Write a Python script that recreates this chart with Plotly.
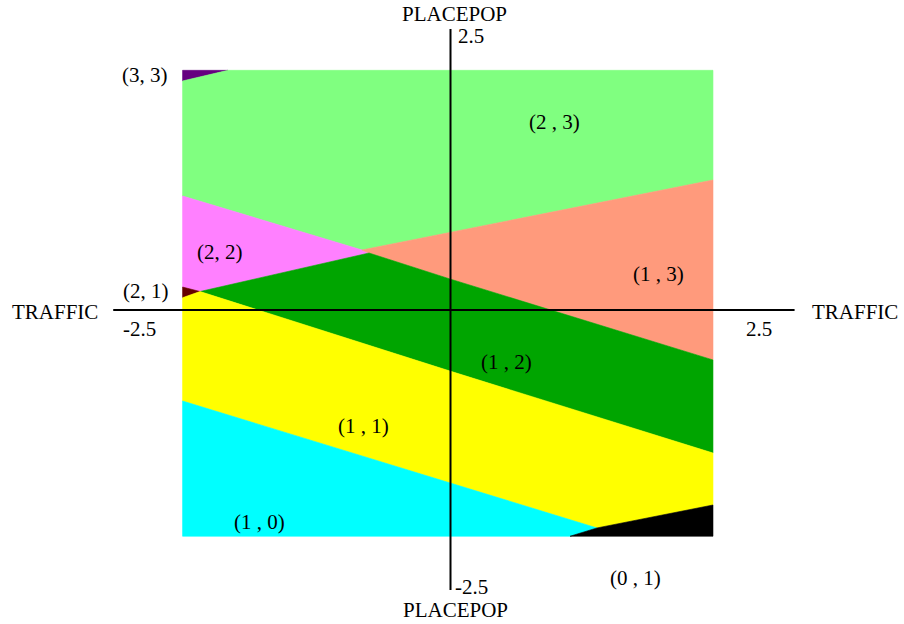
import plotly.graph_objects as go

# ---- data: decision regions in (TRAFFIC, PLACEPOP) standardized units ----
region_names = ["(3, 3)", "(2, 3)", "(2, 2)", "(2, 1)", "(1, 3)", "(1, 2)",
                "(1, 1)", "(1, 0)", "(0, 1)"]
region_colors = ["#660080", "#80FF80", "#FF80FF", "#660000", "#FF9A7C",
                 "#00A500", "#FFFF00", "#00FFFF", "#000000"]

r33_x = [-1.97, -1.636, -1.97]
r33_y = [2.14, 2.14, 2.045]
r23_x = [-1.97, -1.636, 1.93, 1.93, -0.651, -1.97]
r23_y = [2.045, 2.14, 2.14, 1.161, 0.536, 1.018]
r22_x = [-1.97, -0.651, -0.599, -1.842, -1.97]
r22_y = [1.018, 0.536, 0.509, 0.165, 0.205]
r21_x = [-1.97, -1.842, -1.97]
r21_y = [0.205, 0.165, 0.11]
r13_x = [-0.651, 1.93, 1.93, -0.004, -0.599]
r13_y = [0.536, 1.161, -0.446, 0.277, 0.509]
r12_x = [-1.842, -0.599, -0.004, 1.93, 1.93, -0.004]
r12_y = [0.165, 0.509, 0.277, -0.446, -1.277, -0.545]
r11_x = [-1.97, -1.842, -0.004, 1.93, 1.93, 1.077, -1.97]
r11_y = [0.11, 0.165, -0.545, -1.277, -1.741, -1.946, -0.8125]
r10_x = [-1.97, 1.077, 0.879, -1.97]
r10_y = [-0.8125, -1.946, -2.02, -2.02]
r01_x = [0.879, 1.077, 1.93, 1.93]
r01_y = [-2.02, -1.946, -1.741, -2.02]

region_xs = [r33_x, r23_x, r22_x, r21_x, r13_x, r12_x, r11_x, r10_x, r01_x]
region_ys = [r33_y, r23_y, r22_y, r21_y, r13_y, r12_y, r11_y, r10_y, r01_y]

# region label texts and their positions
label_texts = ["(3, 3)", "(2 , 3)", "(2, 2)", "(2, 1)", "(1 , 3)", "(1 , 2)",
               "(1 , 1)", "(1 , 0)", "(0 , 1)"]
label_x = [-2.243, 0.768, -1.697, -2.239, 1.533, 0.415, -0.643, -1.408, 1.357]
label_y = [2.098, 1.679, 0.518, 0.174, 0.321, -0.464, -1.036, -1.897, -2.393]

# axis extents and tick labels
x_axis_extent = [-2.48, 2.53]
y_axis_extent = [-2.5, 2.51]
tick_texts = ["2.5", "-2.5", "-2.5", "2.5"]
tick_x = [0.151, 0.158, -2.285, 2.268]
tick_y = [2.45, -2.469, -0.174, -0.170]
axis_titles = ["TRAFFIC", "TRAFFIC", "PLACEPOP", "PLACEPOP"]
title_x = [-2.908, 2.974, 0.033, 0.04]
title_y = [-0.022, -0.022, 2.64, -2.679]

fig = go.Figure()
for name, xs, ys, col in zip(region_names, region_xs, region_ys, region_colors):
    fig.add_trace(go.Scatter(
        x=xs + [xs[0]], y=ys + [ys[0]], mode="lines", fill="toself",
        fillcolor=col, line=dict(width=0.6, color=col), name=name,
        hoverinfo="name", showlegend=False))

# axis lines
fig.add_trace(go.Scatter(x=x_axis_extent, y=[0, 0], mode="lines",
                         line=dict(color="black", width=2), hoverinfo="skip",
                         showlegend=False))
fig.add_trace(go.Scatter(x=[0, 0], y=y_axis_extent, mode="lines",
                         line=dict(color="black", width=2), hoverinfo="skip",
                         showlegend=False))

font = dict(family="Liberation Serif, Times New Roman, serif", size=21, color="black")
annotations = []
for t, x, y in zip(label_texts + tick_texts + axis_titles,
                   label_x + tick_x + title_x,
                   label_y + tick_y + title_y):
    annotations.append(dict(x=x, y=y, text=t, showarrow=False, font=font,
                            xanchor="center", yanchor="middle"))

fig.update_layout(
    width=904, height=624,
    margin=dict(l=0, r=0, t=0, b=0),
    paper_bgcolor="white", plot_bgcolor="white",
    xaxis=dict(range=[-3.3125, 3.3346], visible=False, fixedrange=True),
    yaxis=dict(range=[-2.8036, 2.7679], visible=False, fixedrange=True),
    annotations=annotations,
    showlegend=False,
)

fig.write_html("out.html",
               config={"displayModeBar": False},
               post_script="document.body.style.margin='0';"
                           "document.body.style.overflow='hidden';")
